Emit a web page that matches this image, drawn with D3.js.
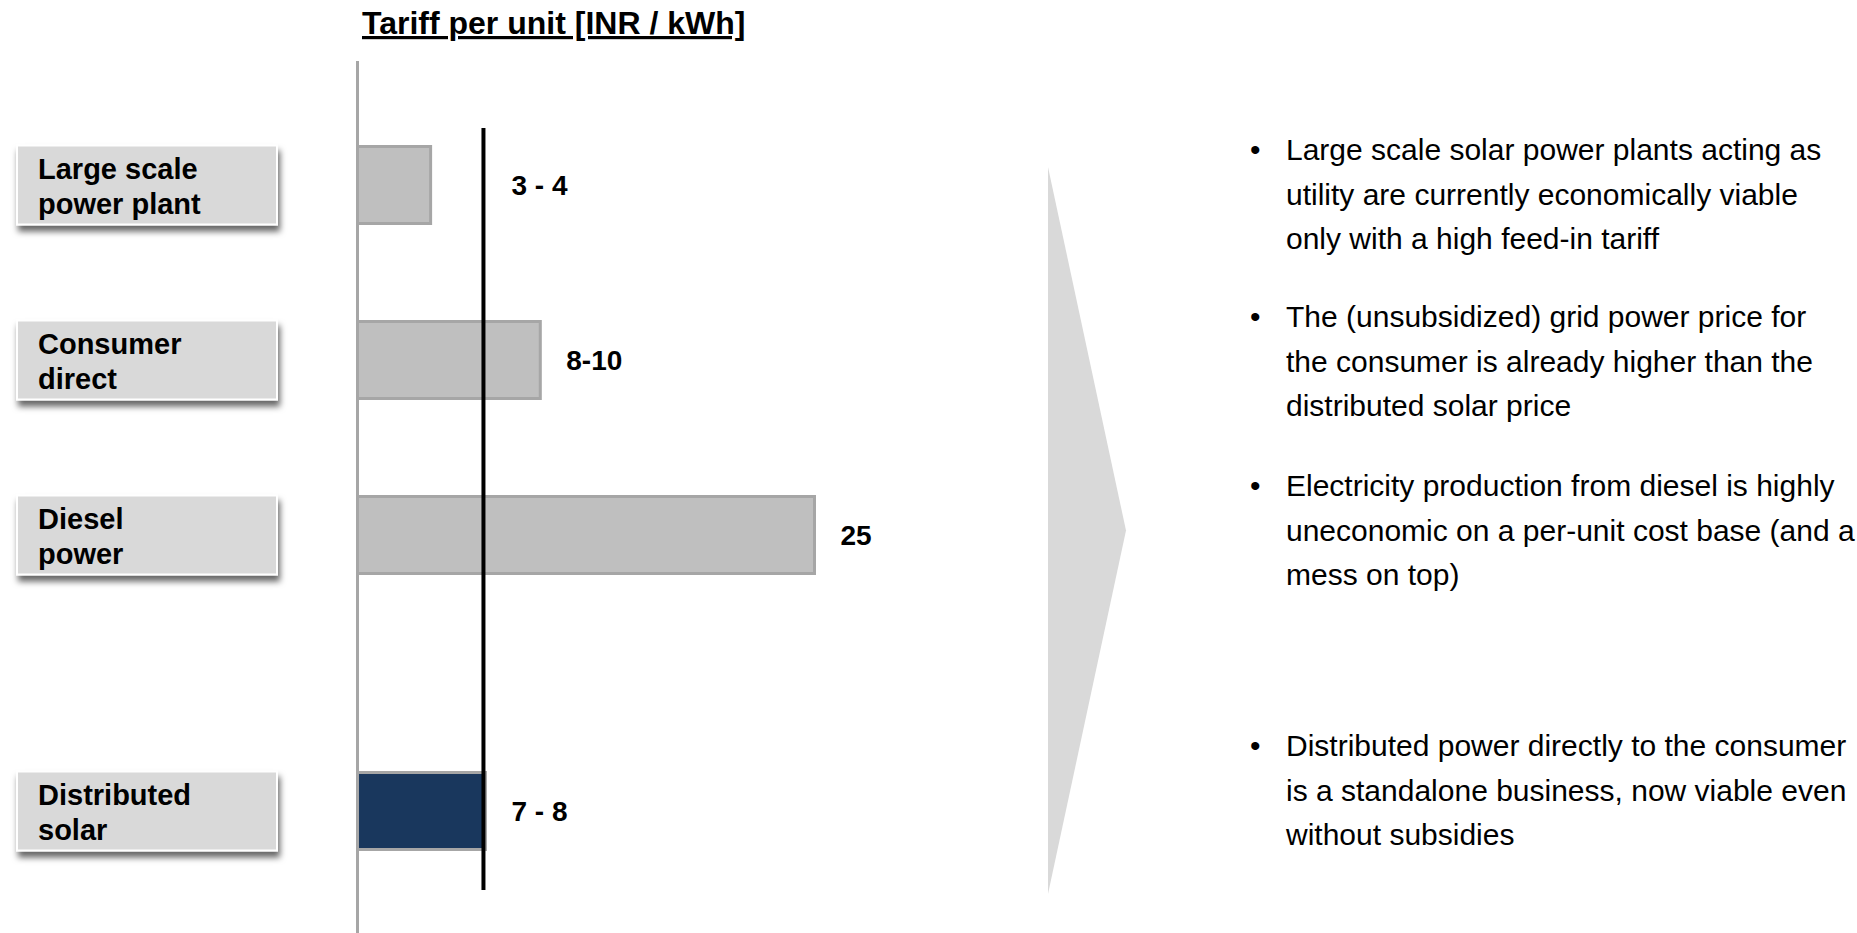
<!DOCTYPE html>
<html>
<head>
<meta charset="utf-8">
<script src="https://cdn.jsdelivr.net/npm/d3@7"></script>
<style>
  html, body { margin: 0; padding: 0; background: #ffffff; }
  svg { display: block; font-family: "Liberation Sans", Arial, Helvetica, sans-serif; }
</style>
</head>
<body>
<svg id="chart" width="1857" height="933"></svg>
<script>
// Tariff per unit by power source (INR / kWh)
const categoryLines = [
  ["Large scale", "power plant"],
  ["Consumer", "direct"],
  ["Diesel", "power"],
  ["Distributed", "solar"]
];
const categoryGroup = ["conventional", "conventional", "conventional", "solar"];
const tariffValues = [4, 10, 25, 7];
const tariffLabels = ["3 - 4", "8-10", "25", "7 - 8"];
const solarTariff = 7;           // reference line: distributed solar tariff
const axisTitle = "Tariff per unit [INR / kWh]";

const commentary = [
  ["Large scale solar power plants acting as",
   "utility are currently economically viable",
   "only with a high feed-in tariff"],
  ["The (unsubsidized) grid power price for",
   "the consumer is already higher than the",
   "distributed solar price"],
  ["Electricity production from diesel is highly",
   "uneconomic on a per-unit cost base (and a",
   "mess on top)"],
  ["Distributed power directly to the consumer",
   "is a standalone business, now viable even",
   "without subsidies"]
];
const commentaryTop = [160, 327, 496, 756];

const svg = d3.select("#chart");

// drop shadow used by the category boxes
const defs = svg.append("defs");
const shadow = defs.append("filter").attr("id", "boxShadow")
  .attr("x", "-10%").attr("y", "-20%").attr("width", "125%").attr("height", "160%");
shadow.append("feDropShadow")
  .attr("dx", 2).attr("dy", 6).attr("stdDeviation", 3)
  .attr("flood-color", "#000").attr("flood-opacity", 0.6);

// scales
const x = d3.scaleLinear().domain([0, 25]).range([357.5, 814.5]);
const rowPoint = d3.scalePoint().domain(d3.range(categoryLines.length))
  .range([97.5, 797.5]).padding(0.5);
const solarGap = 101;
const rowY = i => rowPoint(i) + (categoryGroup[i] === "solar" ? solarGap : 0);
const barHeight = 77;

// title
svg.append("text")
  .attr("x", 362).attr("y", 34)
  .attr("font-size", 32).attr("font-weight", "bold")
  .attr("text-decoration", "underline")
  .attr("fill", "#000")
  .text(axisTitle);

// arrow shape between chart and commentary
svg.append("path")
  .attr("d", d3.line()([[1048, 167], [1126, 530.5], [1048, 894]]) + "Z")
  .attr("fill", "#d9d9d9");

// baseline axis
svg.append("line")
  .attr("x1", x(0)).attr("x2", x(0))
  .attr("y1", 61).attr("y2", 933)
  .attr("stroke", "#a6a6a6").attr("stroke-width", 3);

// bars
const rows = d3.range(categoryLines.length);
svg.append("g").selectAll("rect").data(rows).join("rect")
  .attr("x", x(0))
  .attr("y", i => rowY(i) - barHeight / 2)
  .attr("width", i => x(tariffValues[i]) - x(0))
  .attr("height", barHeight)
  .attr("fill", i => categoryGroup[i] === "solar" ? "#19375d" : "#bfbfbf")
  .attr("stroke", "#a6a6a6")
  .attr("stroke-width", 3);

// solar reference line
svg.append("line")
  .attr("x1", x(solarTariff) - 2).attr("x2", x(solarTariff) - 2)
  .attr("y1", 128).attr("y2", 890)
  .attr("stroke", "#000").attr("stroke-width", 4);

// value labels
svg.append("g").selectAll("text").data(rows).join("text")
  .attr("x", i => Math.max(x(tariffValues[i]), x(solarTariff)) + 26)
  .attr("y", i => rowY(i) + 10)
  .attr("font-size", 28).attr("font-weight", "bold")
  .attr("fill", "#000")
  .text(i => tariffLabels[i]);

// category boxes
const boxes = svg.append("g").selectAll("g").data(rows).join("g")
  .attr("transform", i => `translate(17, ${rowY(i) - 39.5})`);
boxes.append("rect")
  .attr("width", 260).attr("height", 79)
  .attr("fill", "#d9d9d9")
  .attr("stroke", "#ffffff").attr("stroke-width", 2)
  .attr("filter", "url(#boxShadow)");
boxes.append("text")
  .attr("font-size", 29).attr("font-weight", "bold").attr("fill", "#000")
  .selectAll("tspan").data(i => categoryLines[i]).join("tspan")
  .attr("x", 21)
  .attr("y", (d, k) => 33 + k * 35)
  .text(d => d);

// commentary bullets
const notes = svg.append("g").selectAll("g").data(commentary).join("g")
  .attr("transform", (d, i) => `translate(0, ${commentaryTop[i]})`);
notes.append("text")
  .attr("x", 1250).attr("y", 0)
  .attr("font-size", 30).attr("fill", "#000")
  .text("\u2022");
notes.append("text")
  .attr("font-size", 30).attr("fill", "#000")
  .selectAll("tspan").data(d => d).join("tspan")
  .attr("x", 1286)
  .attr("y", (d, k) => k * 44.5)
  .text(d => d);
</script>
</body>
</html>
